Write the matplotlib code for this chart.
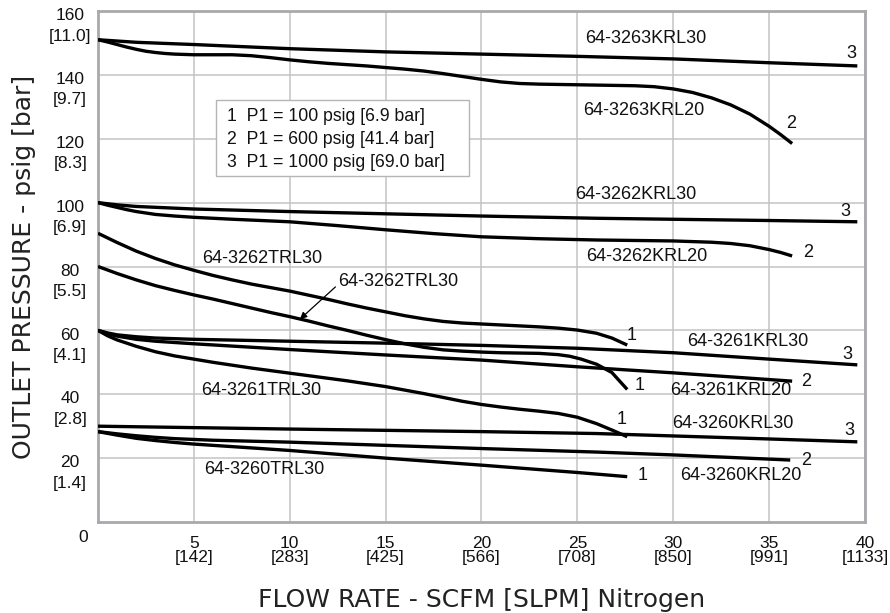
import matplotlib
matplotlib.use("Agg")
import matplotlib.pyplot as plt
import matplotlib.transforms as mtransforms
from matplotlib.patches import Rectangle

# ---------------- data ----------------
x_3263_krl30 = [0, 2, 5, 10, 15, 20, 25, 30, 35, 39.6]
y_3263_krl30 = [151, 150.2, 149.5, 148.2, 147.2, 146.5, 145.8, 145.0, 143.8, 142.8]

x_3263_krl20 = [0, 0.5, 1, 1.5, 2, 2.5, 3, 3.5, 4, 5, 6, 7, 8, 9, 10, 11, 12, 13, 14, 15, 16, 17,
                18, 19, 20, 21, 22, 23, 24, 26, 28, 29, 30, 31, 32, 33, 34, 35, 35.6, 36.2]
y_3263_krl20 = [151, 150.3, 149.5, 148.7, 148, 147.4, 147, 146.7, 146.5, 146.3, 146.3, 146.3, 146,
                145.4, 144.7, 144.1, 143.6, 143.2, 142.8, 142.3, 141.8, 141.2, 140.4, 139.5, 138.6,
                137.8, 137.3, 137.1, 137, 136.8, 136.6, 136.3, 135.6, 134.5, 132.8, 130.6, 127.7,
                123.9, 121.3, 118.5]

x_3262_krl30 = [0, 1, 2, 5, 10, 20, 26, 35, 39.6]
y_3262_krl30 = [100, 99.3, 98.8, 98, 97.2, 95.8, 95.1, 94.4, 94]

x_3262_krl20 = [0, 0.5, 1, 1.5, 2, 3, 4, 5, 7, 10, 12.5, 15, 17.5, 20, 23, 26, 30, 32, 33, 34, 35, 35.6, 36.2]
y_3262_krl20 = [100, 99.2, 98.5, 97.8, 97.2, 96.3, 95.8, 95.4, 94.8, 94, 92.8, 91.5, 90.3, 89.3,
                88.7, 88.3, 88, 87.6, 87.2, 86.5, 85.3, 84.4, 83.3]

x_3262_trl30_a = [0, 1, 2, 3, 4, 5, 6, 7, 8, 9, 10, 11, 12, 13, 14, 15, 16, 17, 18, 19, 20,
                  21, 22, 23, 24, 25, 26, 26.8, 27.6]
y_3262_trl30_a = [90.4, 87.5, 84.8, 82.5, 80.5, 78.8, 77.2, 75.8, 74.5, 73.4, 72.3, 71, 69.7,
                  68.3, 67, 65.8, 64.6, 63.6, 62.8, 62.3, 62, 61.7, 61.4, 61.1, 60.7, 60.1, 59.1,
                  57.6, 55.4]

x_3262_trl30_b = [0, 1, 2, 3, 4, 5, 6, 7, 8, 9, 10, 11, 12, 13, 14, 15, 16, 17, 18, 19, 20,
                  21, 22, 23, 24, 24.6, 25.2, 26, 26.8, 27.6]
y_3262_trl30_b = [80, 77.8, 75.8, 74, 72.5, 71.1, 69.8, 68.4, 67, 65.6, 64.3, 62.9, 61.4, 60,
                  58.5, 57.1, 55.8, 54.7, 53.9, 53.5, 53.2, 53, 52.9, 52.8, 52.4, 51.9, 51, 49.4,
                  46.8, 41.5]

x_3261_krl30 = [0, 0.5, 1, 2, 3, 5, 10, 15, 20, 25, 30, 35, 39.6]
y_3261_krl30 = [60, 59.2, 58.6, 58, 57.6, 57.2, 56.6, 56, 55.3, 54.4, 53, 51, 49.2]

x_3261_krl20 = [0, 0.5, 1, 2, 3, 5, 7.5, 10, 15, 20, 25, 30, 36.2]
y_3261_krl20 = [60, 59, 58.2, 57.2, 56.6, 55.8, 54.9, 54, 52.3, 50.7, 48.6, 46.7, 44.1]

x_3261_trl30 = [0, 0.5, 1, 2, 3, 4, 5, 6, 7, 8, 9, 10, 11, 12, 13, 14, 15, 16, 17, 18, 19, 20,
                21, 22, 23, 24, 25, 26, 26.8, 27.6]
y_3261_trl30 = [60, 58.3, 57, 55, 53.3, 52, 51, 50, 49.1, 48.2, 47.4, 46.6, 45.8, 45, 44.2, 43.3,
                42.4, 41.3, 40.2, 39, 37.8, 36.8, 36, 35.3, 34.7, 34, 32.8, 30.8, 28.8, 26.7]

x_3260_krl30 = [0, 10, 20, 26, 35, 39.6]
y_3260_krl30 = [30, 29.1, 28.3, 27.7, 26, 25.1]

x_3260_krl20 = [0, 1, 2, 3, 4, 6, 10, 15, 20, 26, 30, 36.1]
y_3260_krl20 = [28.3, 27.6, 27, 26.5, 26.1, 25.6, 25, 24, 23, 21.9, 21, 19.4]

x_3260_trl30 = [0, 1, 2, 3, 4, 5, 7.5, 10, 15, 20, 25, 27.6]
y_3260_trl30 = [28.3, 27.2, 26.2, 25.5, 24.9, 24.4, 23.4, 22.4, 20, 17.8, 15.5, 14.2]

y_ticks = [20, 40, 60, 80, 100, 120, 140, 160]
y_tick_psig = ["20", "40", "60", "80", "100", "120", "140", "160"]
y_tick_bar = ["[1.4]", "[2.8]", "[4.1]", "[5.5]", "[6.9]", "[8.3]", "[9.7]", "[11.0]"]

x_ticks = [5, 10, 15, 20, 25, 30, 35, 40]
x_tick_scfm = ["5", "10", "15", "20", "25", "30", "35", "40"]
x_tick_slpm = ["[142]", "[283]", "[425]", "[566]", "[708]", "[850]", "[991]", "[1133]"]

legend_lines = ["1  P1 = 100 psig [6.9 bar]",
                "2  P1 = 600 psig [41.4 bar]",
                "3  P1 = 1000 psig [69.0 bar]"]

curves = [
    (x_3263_krl30, y_3263_krl30), (x_3263_krl20, y_3263_krl20),
    (x_3262_krl30, y_3262_krl30), (x_3262_krl20, y_3262_krl20),
    (x_3262_trl30_a, y_3262_trl30_a), (x_3262_trl30_b, y_3262_trl30_b),
    (x_3261_krl30, y_3261_krl30), (x_3261_krl20, y_3261_krl20),
    (x_3261_trl30, y_3261_trl30),
    (x_3260_krl30, y_3260_krl30), (x_3260_krl20, y_3260_krl20),
    (x_3260_trl30, y_3260_trl30),
]

# label text, (x, y) in data units
curve_labels = [
    ("64-3263KRL30", 28.58, 151.5), ("3", 39.27, 146.7),
    ("64-3263KRL20", 28.45, 129.0), ("2", 36.14, 124.8),
    ("64-3262KRL30", 28.06, 102.7), ("3", 38.99, 97.2),
    ("64-3262KRL20", 28.63, 83.1), ("2", 37.04, 84.3),
    ("64-3262TRL30", 8.58, 82.6), ("1", 27.83, 58.5),
    ("64-3261KRL30", 33.9, 56.5), ("3", 39.1, 52.3),
    ("64-3261KRL20", 33.0, 41.3), ("2", 36.92, 43.9),
    ("1", 28.27, 42.6),
    ("64-3261TRL30", 8.53, 41.3), ("1", 27.31, 32.2),
    ("64-3260KRL30", 33.09, 30.7), ("3", 39.17, 28.6),
    ("64-3260KRL20", 33.53, 14.7), ("2", 36.92, 19.4),
    ("64-3260TRL30", 8.69, 16.3), ("1", 28.39, 14.7),
]

# ---------------- figure ----------------
FONT = "Liberation Sans"
fig = plt.figure(figsize=(8.9, 6.13), dpi=100)
ax = fig.add_axes([98 / 890, (613 - 522) / 613, (865 - 98) / 890, (522 - 11) / 613])
ax.set_xlim(0, 40)
ax.set_ylim(0, 160)
ax.set_axisbelow(True)

for sp in ax.spines.values():
    sp.set_color("#a9a9ad")
    sp.set_linewidth(2.0)
    sp.set_zorder(2.5)

for xs, ys in curves:
    ax.plot(xs, ys, color="black", linewidth=2.4, solid_capstyle="butt",
            solid_joinstyle="round", zorder=3)

for txt, tx, ty in curve_labels:
    ax.text(tx, ty, txt, ha="center", va="center", fontsize=13,
            family=FONT, color="#111111", zorder=4)

# arrow to lower 64-3262TRL30
ax.annotate("64-3262TRL30", xy=(10.53, 63.5), xytext=(15.66, 75.2),
            ha="center", va="center", fontsize=13, family=FONT, color="#111111",
            arrowprops=dict(arrowstyle="-|>", color="black", lw=0.9,
                            shrinkA=0, shrinkB=0, mutation_scale=10,
                            relpos=(0.0, 0.35)))

# legend box
ax.add_patch(Rectangle((6.15, 108.3), 13.2, 23.8, facecolor="white",
                       edgecolor="#b5b5b5", linewidth=1.0, zorder=5))
for i, line in enumerate(legend_lines):
    ax.text(6.71, 126.9 - 7.1 * i, line, ha="left", va="center", fontsize=12.7,
            family=FONT, color="#111111", zorder=6)

# y ticks
ax.set_yticks(y_ticks)
ax.set_yticklabels([f"{p}\n{b}" for p, b in zip(y_tick_psig, y_tick_bar)],
                   ha="center", va="top", linespacing=1.45, fontsize=12.5,
                   family=FONT, color="#111111")
ax.tick_params(axis="y", which="major", length=0, pad=20)
off = mtransforms.ScaledTranslation(0, 2 / 72, fig.dpi_scale_trans)
for lab in ax.get_yticklabels():
    lab.set_transform(lab.get_transform() + off)

# x ticks
ax.set_xticks(x_ticks)
ax.set_xticklabels([f"{a}\n{b}" for a, b in zip(x_tick_scfm, x_tick_slpm)],
                   ha="center", va="top", linespacing=0.95, fontsize=12.5,
                   family=FONT, color="#111111")
ax.tick_params(axis="x", which="major", length=0, pad=10)

ax.grid(True, which="major", color="#c3c3c8", linewidth=1.1)

ax.text(0, 0, "0", ha="center", va="center", fontsize=12.5, family=FONT,
        color="#111111",
        transform=ax.transData + mtransforms.ScaledTranslation(-15 / 100, -16 / 100, fig.dpi_scale_trans))

ax.set_xlabel("FLOW RATE - SCFM [SLPM] Nitrogen", family="DejaVu Sans",
              fontsize=18, color="#222222", labelpad=16)
ax.set_ylabel("OUTLET PRESSURE - psig [bar]", family="DejaVu Sans",
              fontsize=18, color="#222222", labelpad=9)

fig.savefig("out.png", dpi=100)
